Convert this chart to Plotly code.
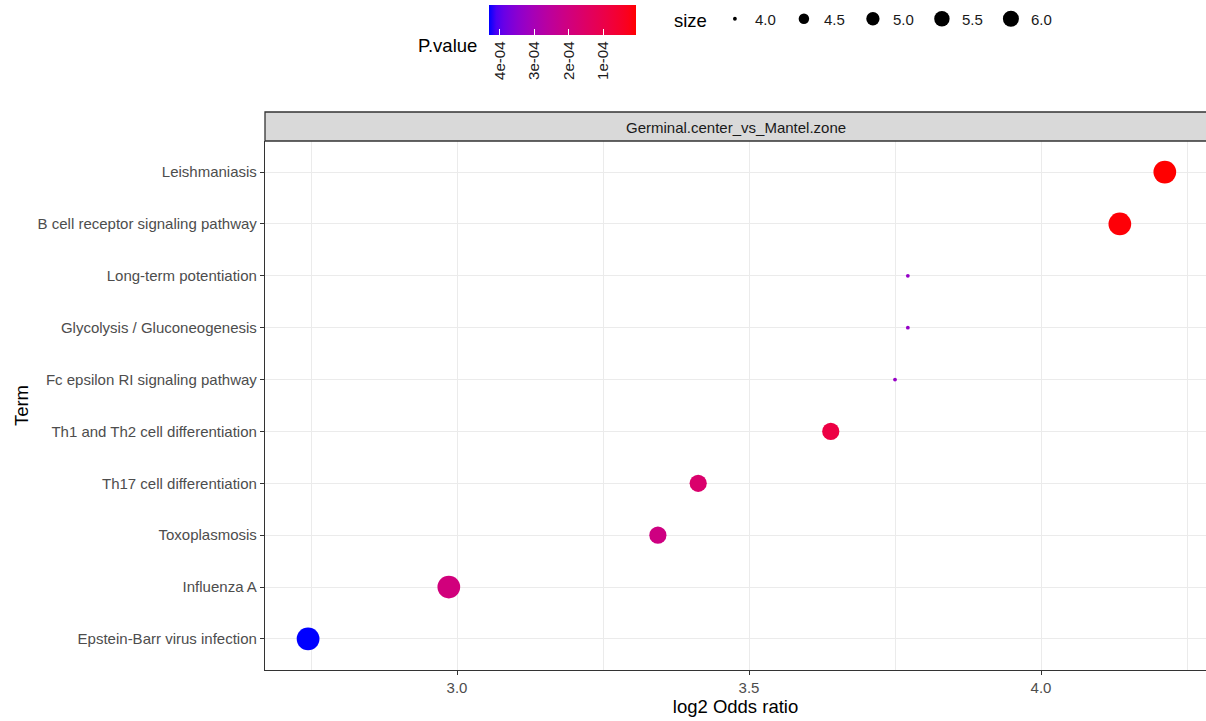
import math
import plotly.graph_objects as go

# ---------------- data ----------------
terms = [
    "Leishmaniasis",
    "B cell receptor signaling pathway",
    "Long-term potentiation",
    "Glycolysis / Gluconeogenesis",
    "Fc epsilon RI signaling pathway",
    "Th1 and Th2 cell differentiation",
    "Th17 cell differentiation",
    "Toxoplasmosis",
    "Influenza A",
    "Epstein-Barr virus infection",
]
log2_odds = [4.212, 4.135, 3.772, 3.772, 3.750, 3.640, 3.413, 3.344, 2.986, 2.745]
p_values = [4.0e-6, 1.0e-5, 3.33e-4, 3.33e-4, 3.30e-4, 9.0e-5, 1.65e-4, 2.05e-4, 1.95e-4, 4.32e-4]
sizes = [8, 8, 4, 4, 4, 6, 6, 6, 8, 8]

size_breaks = [4.0, 4.5, 5.0, 5.5, 6.0]
size_break_labels = ["4.0", "4.5", "5.0", "5.5", "6.0"]
p_breaks = [4e-4, 3e-4, 2e-4, 1e-4]
p_break_labels = ["4e-04", "3e-04", "2e-04", "1e-04"]
x_ticks = [3.0, 3.5, 4.0]

# ---------------- styling helpers ----------------
W, H = 1206, 721
SIZE_MIN, SIZE_MAX = 4, 8


def size_px(v):
    f = (v - SIZE_MIN) / (SIZE_MAX - SIZE_MIN)
    f = min(max(f, 0), 1)
    return 3.79 * (1 + 5 * math.sqrt(f))


def lab_to_rgb(L, a, b):
    fy = (L + 16) / 116
    fx = fy + a / 500
    fz = fy - b / 200

    def finv(t):
        return t ** 3 if t ** 3 > 0.008856 else (t - 16 / 116) / 7.787

    X = 0.95047 * finv(fx)
    Y = 1.0 * finv(fy)
    Z = 1.08883 * finv(fz)
    r = 3.2406 * X - 1.5372 * Y - 0.4986 * Z
    g = -0.9689 * X + 1.8758 * Y + 0.0415 * Z
    bb = 0.0557 * X - 0.2040 * Y + 1.0570 * Z

    def gam(c):
        c = max(0.0, min(1.0, c))
        return 12.92 * c if c <= 0.0031308 else 1.055 * c ** (1 / 2.4) - 0.055

    return tuple(int(round(gam(c) * 255)) for c in (r, g, bb))


RED_LAB = (53.24, 80.09, 67.20)
BLUE_LAB = (32.30, 79.19, -107.86)
colorscale = []
n = 20
for i in range(n + 1):
    t = i / n  # 0 -> blue (high p), 1 -> red (low p)
    L = BLUE_LAB[0] + (RED_LAB[0] - BLUE_LAB[0]) * t
    A = BLUE_LAB[1] + (RED_LAB[1] - BLUE_LAB[1]) * t
    B = BLUE_LAB[2] + (RED_LAB[2] - BLUE_LAB[2]) * t
    r, g, b = lab_to_rgb(L, A, B)
    colorscale.append([t, f"rgb({r},{g},{b})"])

neg_p = [-p for p in p_values]

# plot area in pixels
PX0, PX1 = 265, 1206
PY_TOP, PY_BOT = 141, 670

font_family = "Liberation Sans, Arial, sans-serif"
TICK_SIZE = 15
TITLE_SIZE = 18.5

fig = go.Figure()

fig.add_trace(go.Scatter(
    x=log2_odds,
    y=terms,
    mode="markers",
    showlegend=False,
    hoverinfo="x+y",
    marker=dict(
        size=[size_px(s) for s in sizes],
        color=neg_p,
        cmin=-max(p_values),
        cmax=-min(p_values),
        colorscale=colorscale,
        line=dict(width=0),
        opacity=1,
        colorbar=dict(
            orientation="h",
            lenmode="pixels",
            len=147,
            thickness=30,
            x=562.5 / W,
            xanchor="center",
            y=1 - 5 / H,
            yanchor="top",
            xpad=0,
            ypad=0,
            outlinewidth=0,
            tickvals=[-p for p in p_breaks],
            ticktext=p_break_labels,
            ticks="inside",
            ticklen=6,
            tickcolor="white",
            tickwidth=1,
            tickangle=-90,
            tickfont=dict(family=font_family, size=TICK_SIZE, color="#1a1a1a"),
        ),
    ),
))

# size legend entries
for v, lab in zip(size_breaks, size_break_labels):
    fig.add_trace(go.Scatter(
        x=[None], y=[None], mode="markers", name=lab,
        marker=dict(size=size_px(v), color="black", line=dict(width=0)),
        showlegend=True, hoverinfo="skip",
    ))

fig.update_layout(
    width=W, height=H,
    margin=dict(l=0, r=0, t=0, b=0, autoexpand=False),
    paper_bgcolor="white",
    plot_bgcolor="white",
    font=dict(family=font_family, color="#000000"),
    xaxis=dict(
        domain=[PX0 / W, PX1 / W],
        range=[3.0 - (457 - PX0) / 584, 4.0 + (PX1 - 1041) / 584],
        tickvals=x_ticks,
        tickformat=".1f",
        ticks="outside",
        ticklen=4,
        tickcolor="#333333",
        tickwidth=1,
        tickfont=dict(size=TICK_SIZE, color="#4d4d4d"),
        showgrid=True,
        gridcolor="#ebebeb",
        gridwidth=1,
        minor=dict(dtick=0.25, tick0=2.75, showgrid=True, gridcolor="#ebebeb", gridwidth=0.5),
        showline=True,
        linecolor="#333333",
        linewidth=1.3,
        zeroline=False,
        automargin=False,
        title=dict(text="log2 Odds ratio", font=dict(size=TITLE_SIZE, color="#000000"), standoff=4),
        anchor="y",
    ),
    yaxis=dict(
        domain=[(H - PY_BOT) / H, (H - PY_TOP) / H],
        type="category",
        categoryorder="array",
        categoryarray=terms[::-1],
        range=[-0.6, len(terms) - 1 + 0.6],
        ticks="outside",
        ticklen=4,
        tickcolor="#333333",
        tickwidth=1,
        tickfont=dict(size=TICK_SIZE, color="#4d4d4d"),
        showgrid=True,
        gridcolor="#ebebeb",
        gridwidth=1,
        showline=True,
        linecolor="#333333",
        linewidth=1.3,
        zeroline=False,
        automargin=False,
        title=dict(text="Term", font=dict(size=TITLE_SIZE, color="#000000"), standoff=4),
        anchor="x",
    ),
    legend=dict(
        orientation="h",
        x=672 / W,
        xanchor="left",
        y=1 - 20 / H,
        yanchor="middle",
        itemsizing="trace",
        entrywidth=24,
        entrywidthmode="pixels",
        title=dict(text="size", side="left", font=dict(size=TITLE_SIZE, color="#000000")),
        font=dict(size=TICK_SIZE, color="#1a1a1a"),
        bgcolor="rgba(0,0,0,0)",
        borderwidth=0,
        tracegroupgap=0,
    ),
    shapes=[
        dict(type="rect", xref="paper", yref="paper",
             x0=PX0 / W, x1=1.0 + 2 / W, y0=(H - PY_TOP) / H, y1=(H - 112) / H,
             fillcolor="#d9d9d9", line=dict(color="#333333", width=1.3), layer="above"),
    ],
    annotations=[
        dict(text="Germinal.center_vs_Mantel.zone", xref="paper", yref="paper",
             x=(PX0 + 1206) / 2 / W, y=(H - 127) / H, showarrow=False,
             xanchor="center", yanchor="middle",
             font=dict(size=TICK_SIZE, color="#1a1a1a")),
        dict(text="P.value", xref="paper", yref="paper",
             x=448 / W, y=1 - 46 / H, showarrow=False,
             xanchor="center", yanchor="middle",
             font=dict(size=TITLE_SIZE, color="#000000")),
    ],
)

fig.write_html(
    "out.html",
    config={"displayModeBar": False},
    post_script="document.body.style.margin='0';document.body.style.overflow='hidden';",
)
